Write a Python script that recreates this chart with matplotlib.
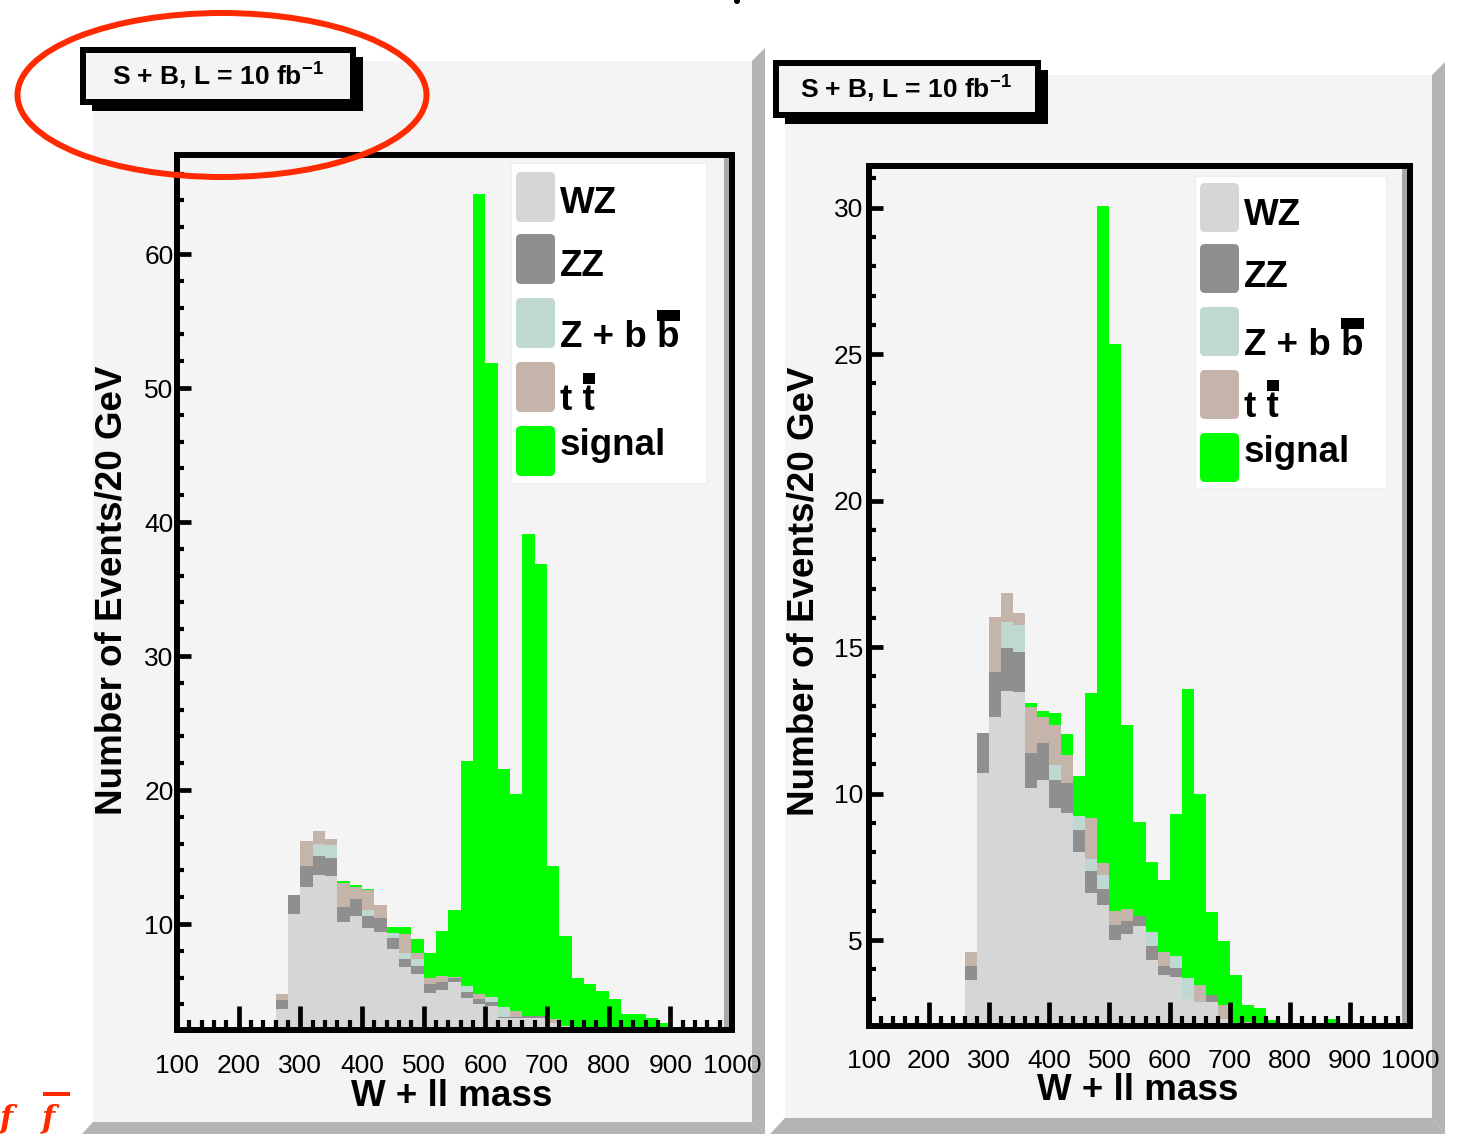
import numpy as np
import matplotlib
matplotlib.use("Agg")
import matplotlib.pyplot as plt
from matplotlib.patches import Polygon, Rectangle, Ellipse, FancyBboxPatch
from matplotlib.transforms import IdentityTransform

# ---------------- data ----------------
bin_width = 20          # GeV per bin
first_edge = 260        # lower edge of first filled bin (GeV)

x_tick_values = [100, 200, 300, 400, 500, 600, 700, 800, 900, 1000]
x_tick_labels = ["100", "200", "300", "400", "500", "600", "700", "800", "900", "1000"]
left_y_ticks = [10, 20, 30, 40, 50, 60]
right_y_ticks = [5, 10, 15, 20, 25, 30]

legend_labels = ["WZ", "ZZ", "Z + b b", "t t", "signal"]
legend_overbar = [False, False, True, True, False]
box_label = r"S + B, L = 10 fb$^{-1}$"
x_title = "W + ll mass"
y_title = "Number of Events/20 GeV"

# left panel, bins 260 ... 900 GeV
wz_left = [3.66, 10.75, 12.74, 13.66, 13.58, 10.17, 10.6, 9.73, 9.43, 8.13, 6.77,
           6.27, 4.87, 5.07, 5.7, 4.45, 4.03, 3.9, 2.98, 2.98, 2.98, 2.98, 2.6,
           2.4, 2.2, 2.0, 1.8, 1.6, 1.4, 1.3, 1.2, 1.0, 0.9]
zz_left = [0.67, 1.41, 1.59, 1.41, 1.37, 1.07, 1.24, 0.87, 1.04, 0.8, 0.6,
           0.6, 0.65, 0.58, 0.25, 0.5, 0.35, 0.25, 0.1, 0.1, 0.15, 0.15, 0,
           0, 0, 0, 0, 0, 0, 0, 0, 0, 0]
zbb_left = [0, 0, 0, 0.93, 0.95, 0, 0, 0.44, 0, 0.42, 0.44,
            0.5, 0, 0, 0, 0.42, 0, 0.43, 0.7, 0, 0, 0, 0,
            0, 0, 0, 0, 0, 0, 0, 0, 0, 0]
tt_left = [0.45, 0, 1.87, 0.94, 0.44, 1.84, 0.9, 1.5, 0.93, 0, 1.42,
           0.44, 0.43, 0.47, 0.1, 0, 0.37, 0, 0, 0.42, 0, 0, 0.3,
           0, 0, 0, 0, 0, 0, 0, 0, 0, 0]
sig_left = [0, 0, 0, 0, 0, 0.12, 0.16, 0.1, 0, 0.45, 0.57,
            1.07, 1.86, 3.38, 4.99, 16.83, 59.75, 47.3, 17.8, 16.2, 36.0, 33.7, 11.4,
            6.7, 3.75, 3.5, 3.2, 2.8, 1.9, 2.0, 1.8, 1.6, 1.1]

# right panel, bins 260 ... 860 GeV
wz_right = [3.64, 10.69, 12.62, 13.51, 13.46, 10.2, 10.46, 9.5, 9.33, 8.02, 6.6,
            6.2, 5.0, 5.2, 5.48, 4.32, 3.81, 3.73, 3.0, 2.9, 2.9, 2.3, 2.1,
            1.9, 1.7, 1.5, 1.3, 1.2, 1.1, 1.0, 0.9]
zz_right = [0.48, 1.37, 1.52, 1.45, 1.38, 1.2, 1.26, 0.96, 1.02, 0.74, 0.76,
            0.53, 0.5, 0.45, 0.34, 0.48, 0.31, 0.31, 0, 0, 0.23, 0, 0,
            0, 0, 0, 0, 0, 0, 0, 0]
zbb_right = [0, 0, 0, 0.91, 0.91, 0, 0, 0.51, 0, 0.49, 0.4,
             0.49, 0, 0, 0, 0.49, 0, 0.42, 0.7, 0, 0, 0, 0,
             0, 0, 0, 0, 0, 0, 0, 0]
tt_right = [0.48, 0, 1.88, 0.97, 0.4, 1.55, 0.9, 1.37, 0.97, 0, 1.4,
            0.4, 0.5, 0.4, 0, 0, 0.48, 0, 0, 0.57, 0, 0.48, 0,
            0.3, 0, 0, 0, 0, 0, 0, 0]
sig_right = [0, 0, 0, 0, 0, 0.13, 0.2, 0.4, 0.73, 1.36, 4.27,
             22.42, 19.36, 6.28, 3.22, 2.36, 2.46, 4.86, 9.87, 6.53, 2.82, 2.19, 1.72,
             0.58, 0.99, 0.78, 0.5, 0, 0, 0, 1.4]

# ---------------- style ----------------
PAD = "#f4f4f4"
BEVEL = "#b4b4b4"
COLORS = ["#d6d6d6", "#8f8f8f", "#bfd8d2", "#c5b4aa", "#00ff00"]
RED = "#ff2a00"

plt.rcParams["font.family"] = ["Liberation Sans", "DejaVu Sans"]
plt.rcParams["mathtext.fontset"] = "custom"
plt.rcParams["mathtext.rm"] = "Liberation Sans:bold"
plt.rcParams["mathtext.it"] = "Liberation Sans:bold"
plt.rcParams["mathtext.bf"] = "Liberation Sans:bold"

W, H = 1457, 1134
fig = plt.figure(figsize=(W / 100, H / 100), dpi=100)
fig.patch.set_facecolor("white")


def px_axes(x0, y0, x1, y1, **kw):
    return fig.add_axes([x0 / W, 1 - y1 / H, (x1 - x0) / W, (y1 - y0) / H], **kw)


def canvas_axes(z):
    a = px_axes(0, 0, W, H, zorder=z)
    a.set_xlim(0, W)
    a.set_ylim(H, 0)
    a.axis("off")
    a.patch.set_alpha(0)
    return a


bg = canvas_axes(0)
ov = canvas_axes(20)

# ---------------- pads with bevels ----------------
def pad(x0, y0, x1, y1, bev, left_slant):
    bg.add_patch(Rectangle((x0, y0), x1 - x0, y1 - y0, fc=PAD, ec="none"))
    bg.add_patch(Polygon([(x1, y0), (x1 + bev, y0 - bev), (x1 + bev, H), (x1, y1)],
                         closed=True, fc=BEVEL, ec="none"))
    bg.add_patch(Polygon([(x0, y1), (x1, y1), (x1 + bev, H), (left_slant, H)],
                         closed=True, fc=BEVEL, ec="none"))


pad(93, 61, 752, 1122, 13, 82)
pad(785, 75, 1432, 1118, 13, 770)


# ---------------- title boxes ----------------
def title_box(x0, y0, x1, y1, cx, cy):
    bg.add_patch(Rectangle((x0 + 12, y0 + 10), x1 - x0 - 5, y1 - y0 - 4, fc="black", ec="none"))
    bg.add_patch(Rectangle((x0, y0), x1 - x0, y1 - y0, fc="black", ec="none"))
    bg.add_patch(Rectangle((x0 + 6, y0 + 6), x1 - x0 - 12, y1 - y0 - 12, fc=PAD, ec="none"))
    bg.text(cx, cy, box_label, ha="center", va="center", fontsize=19, fontweight="bold")


title_box(80, 47, 356, 105, 218, 76)
title_box(773, 60, 1041, 118, 906, 89)


# ---------------- histogram panels ----------------
def panel(frame, ylim, series, yticks, yminor, ypad, xpad):
    ax = px_axes(*frame, zorder=5)
    ax.set_facecolor(PAD)
    n = len(series[0])
    edges = first_edge + bin_width * np.arange(n + 1)
    base = np.zeros(n)
    for vals, col in zip(series, COLORS):
        top = base + np.asarray(vals, dtype=float)
        ax.stairs(top, edges, baseline=base, fill=True, color=col, linewidth=0, zorder=1)
        base = top
    ax.set_xlim(100, 1000)
    ax.set_ylim(*ylim)
    ax.set_xticks(x_tick_values)
    ax.set_xticklabels(x_tick_labels)
    ax.set_xticks(np.arange(100, 1001, 20), minor=True)
    ax.set_yticks(yticks)
    ax.set_yticklabels([str(t) for t in yticks])
    ax.set_yticks(yminor, minor=True)
    ax.tick_params(axis="x", which="major", direction="in", length=17, width=3.4,
                   pad=xpad, labelsize=19)
    ax.tick_params(axis="x", which="minor", direction="in", length=7, width=3.0)
    ax.tick_params(axis="y", which="major", direction="in", length=10, width=3.4,
                   pad=ypad, labelsize=19)
    ax.tick_params(axis="y", which="minor", direction="in", length=5, width=3.0)
    for s in ax.spines.values():
        s.set_linewidth(4.3)
        s.set_color("black")
    ax.set_axisbelow(False)
    fw = frame[2] - frame[0]
    ax.add_patch(Rectangle((1 - 8 / fw, 0), 5 / fw, 1, transform=ax.transAxes,
                           fc="#a8a8a8", ec="none", zorder=0.5))
    return ax


axL = panel((177, 155, 732, 1030), (2.09, 67.39),
            [wz_left, zz_left, zbb_left, tt_left, sig_left],
            left_y_ticks, np.arange(4, 68, 2), 2.5, 17)
axR = panel((869, 166, 1410, 1026), (2.07, 31.42),
            [wz_right, zz_right, zbb_right, tt_right, sig_right],
            right_y_ticks, np.arange(3, 32, 1), 4.5, 16.5)

# axis titles
ov.text(452, 1097, x_title, ha="center", va="center", fontsize=26.5, fontweight="bold")
ov.text(1138, 1090, x_title, ha="center", va="center", fontsize=26.5, fontweight="bold")
ov.text(112, 590, y_title, ha="center", va="center", rotation=90, fontsize=26.5,
        fontweight="bold")
ov.text(804, 591, y_title, ha="center", va="center", rotation=90, fontsize=26.5,
        fontweight="bold")

# ---------------- legends ----------------
renderer = fig.canvas.get_renderer()


def legend(box, sq_tops, sq_h, baselines):
    lax = px_axes(*box, zorder=6)
    w = box[2] - box[0]
    h = box[3] - box[1]
    lax.set_xlim(0, w)
    lax.set_ylim(h, 0)
    lax.set_facecolor("white")
    lax.set_xticks([])
    lax.set_yticks([])
    for s in lax.spines.values():
        s.set_color("#eeeeee")
        s.set_linewidth(0.8)
    for lab, col, top, bl, bar in zip(legend_labels, COLORS, sq_tops, baselines, legend_overbar):
        lax.add_patch(FancyBboxPatch((5, top), 39, sq_h,
                                     boxstyle="round,pad=0,rounding_size=5",
                                     fc=col, ec="none"))
        t = lax.text(49, bl, lab, fontsize=26.5, fontweight="bold", va="baseline", ha="left")
        if bar:
            bb = t.get_window_extent(renderer)
            tmp = lax.text(0, 0, lab[-1], fontsize=26.5, fontweight="bold")
            cw = tmp.get_window_extent(renderer).width
            tmp.remove()
            lax.add_patch(Rectangle((bb.x1 - cw, bb.y1 - 1), cw, 11,
                                    transform=IdentityTransform(), fc="black", ec="none"))
    return lax


legend((511, 163, 706, 483), [9, 71, 135, 199, 263], 50, [50, 113, 184, 247, 292])
legend((1195, 176, 1386, 488), [7, 68, 131, 194, 257], 49, [49, 111, 179, 241, 286])

# ---------------- annotations ----------------
ov.add_patch(Ellipse((222, 95), 409, 164, fill=False, ec=RED, lw=4.3))
ov.text(0, 1127, "f", fontsize=22, color=RED, family="DejaVu Serif", style="italic",
        fontweight="bold", va="baseline", ha="left")
ov.text(42, 1127, "f", fontsize=22, color=RED, family="DejaVu Serif", style="italic",
        fontweight="bold", va="baseline", ha="left")
ov.add_patch(Rectangle((43, 1092), 27, 3.5, fc=RED, ec="none"))
ov.add_patch(Ellipse((737, 1), 6, 6, fc="black", ec="none"))

fig.savefig("out.png", dpi=100, facecolor="white")
